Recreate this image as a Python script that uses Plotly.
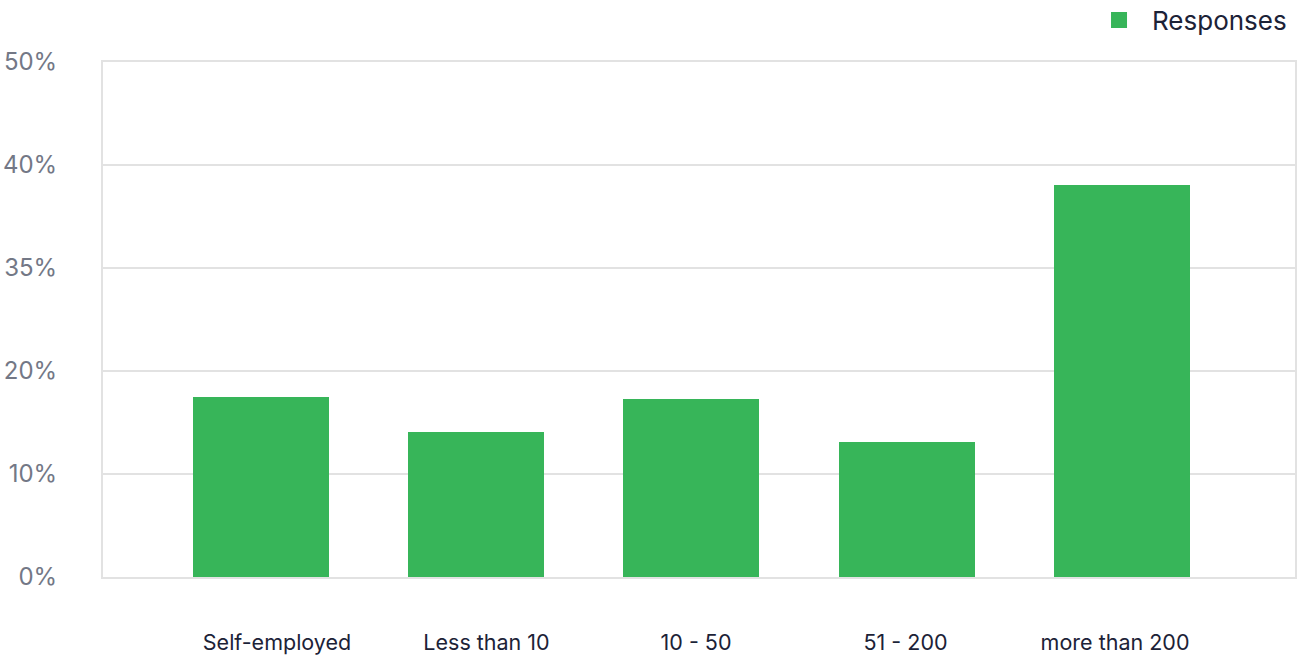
import plotly.graph_objects as go

# Company size categories and share of responses (%)
categories = ["Self-employed", "Less than 10", "10 - 50", "51 - 200", "more than 200"]
responses = [17.5, 14.05, 17.3, 13.1, 38.1]

# Y-axis ticks as labelled on the chart
tick_values = [0, 10, 20, 30, 40, 50]
tick_labels = ["0%", "10%", "20%", "35%", "40%", "50%"]

GRID = "#e2e2e2"
GREEN = "#37b559"

fig = go.Figure()

fig.add_trace(
    go.Bar(
        x=list(range(len(categories))),
        y=responses,
        name="Responses",
        marker=dict(color=GREEN, line=dict(width=0)),
        width=0.632,
        showlegend=False,
        legendgroup="resp",
    )
)

# Larger square swatch for the legend entry
fig.add_trace(
    go.Scatter(
        x=[None],
        y=[None],
        mode="markers",
        name="Responses",
        marker=dict(symbol="square", size=20, color=GREEN),
        legendgroup="resp",
        showlegend=True,
    )
)

# Category labels sit on their own, slightly tighter, label axis
fig.add_trace(
    go.Scatter(
        x=[None],
        y=[None],
        xaxis="x2",
        mode="markers",
        showlegend=False,
        hoverinfo="skip",
    )
)

fig.update_layout(
    width=1299,
    height=656,
    margin=dict(l=103, r=4, t=62, b=79, autoexpand=False),
    paper_bgcolor="white",
    plot_bgcolor="white",
    font=dict(family="Inter, Lato, sans-serif"),
    bargap=0,
    showlegend=True,
    legend=dict(
        orientation="h",
        xref="paper",
        yref="paper",
        x=0.9975,
        xanchor="right",
        y=1.0816,
        yanchor="middle",
        font=dict(size=26, color="#1c2237"),
        itemwidth=56,
        bgcolor="rgba(0,0,0,0)",
    ),
    xaxis=dict(
        range=[-0.734, 4.804],
        showticklabels=False,
        showgrid=False,
        zeroline=False,
        showline=True,
        linecolor=GRID,
        linewidth=2,
        mirror=True,
        ticks="",
        automargin=False,
        fixedrange=True,
    ),
    xaxis2=dict(
        overlaying="x",
        side="bottom",
        anchor="y",
        range=[-0.8305, 4.859],
        tickvals=list(range(len(categories))),
        ticktext=categories,
        tickfont=dict(size=21.5, color="#1c2237"),
        showgrid=False,
        zeroline=False,
        showline=False,
        ticks="",
        ticklabelstandoff=50,
        automargin=False,
        fixedrange=True,
    ),
    yaxis=dict(
        range=[0, 50],
        tickvals=tick_values,
        ticktext=tick_labels,
        tickfont=dict(size=24, color="#737886"),
        showgrid=True,
        gridcolor=GRID,
        gridwidth=2,
        zeroline=False,
        showline=True,
        linecolor=GRID,
        linewidth=2,
        mirror=True,
        ticks="",
        ticklabelstandoff=39,
        automargin=False,
        fixedrange=True,
    ),
)

fig.write_html("out.html")
